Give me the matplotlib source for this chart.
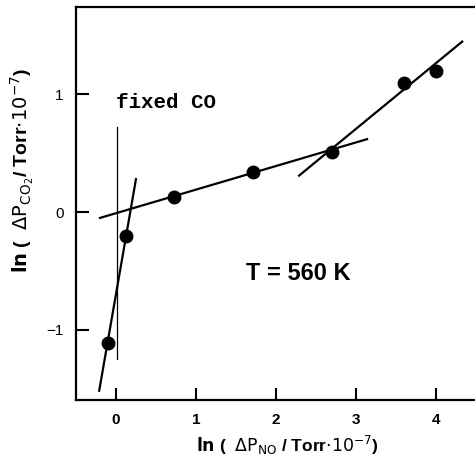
import matplotlib
matplotlib.use("Agg")
import matplotlib.pyplot as plt

# measured points
ln_pno = [-0.10, 0.12, 0.72, 1.71, 2.70, 3.60, 4.00]
ln_pco2 = [-1.11, -0.20, 0.13, 0.34, 0.51, 1.10, 1.20]

# fitted lines (end points)
steep_x = [-0.21, 0.25]
steep_y = [-1.52, 0.28]
flat_x = [-0.20, 3.14]
flat_y = [-0.05, 0.62]
upper_x = [2.29, 4.33]
upper_y = [0.31, 1.45]

# fixed CO marker line
fixed_x = [0.01, 0.01]
fixed_y = [-1.25, 0.72]

plt.rcParams['font.family'] = ['Liberation Sans', 'DejaVu Sans']

fig = plt.figure(figsize=(4.75, 4.61), dpi=100)
ax = fig.add_axes([0.16, 0.132, 0.84, 0.853])

ax.plot(steep_x, steep_y, color='black', lw=1.6)
ax.plot(flat_x, flat_y, color='black', lw=1.6)
ax.plot(upper_x, upper_y, color='black', lw=1.6)
ax.plot(fixed_x, fixed_y, color='black', lw=0.9)
ax.plot(ln_pno, ln_pco2, 'o', color='black', ms=9, zorder=5)

ax.set_xlim(-0.5, 4.49)
ax.set_ylim(-1.6, 1.745)
ax.set_xticks([0, 1, 2, 3, 4])
ax.set_yticks([-1, 0, 1])
ax.set_xticklabels(['0', '1', '2', '3', '4'], fontweight='bold')
ax.set_yticklabels(['\u22121', '0', '1'])
ax.tick_params(direction='in', length=9, width=1.5, labelsize=11, pad=9)
ax.spines['right'].set_visible(False)
for s in ['left', 'bottom', 'top']:
    ax.spines[s].set_linewidth(1.6)

ax.text(0.0, 0.93, 'fixed CO', family=['Liberation Mono', 'DejaVu Sans Mono'],
        fontweight='bold', fontsize=15, va='center', ha='left')
ax.text(1.62, -0.52, 'T = 560 K', fontweight='bold', fontsize=17,
        va='center', ha='left')

ax.set_xlabel(r'$\mathbf{ln}$ (  $\Delta\mathrm{P_{NO}}$ / Torr$\cdot10^{-7}$)',
              fontsize=12.5, fontweight='bold')
ax.set_ylabel(r'$\mathbf{ln}$ (  $\Delta\mathrm{P_{CO_2}}$/ Torr$\cdot10^{-7}$)',
              fontsize=14, fontweight='bold')
ax.xaxis.set_label_coords(0.53, -0.085)
ax.yaxis.set_label_coords(-0.10, 0.585)

fig.savefig('out.png', dpi=100)
